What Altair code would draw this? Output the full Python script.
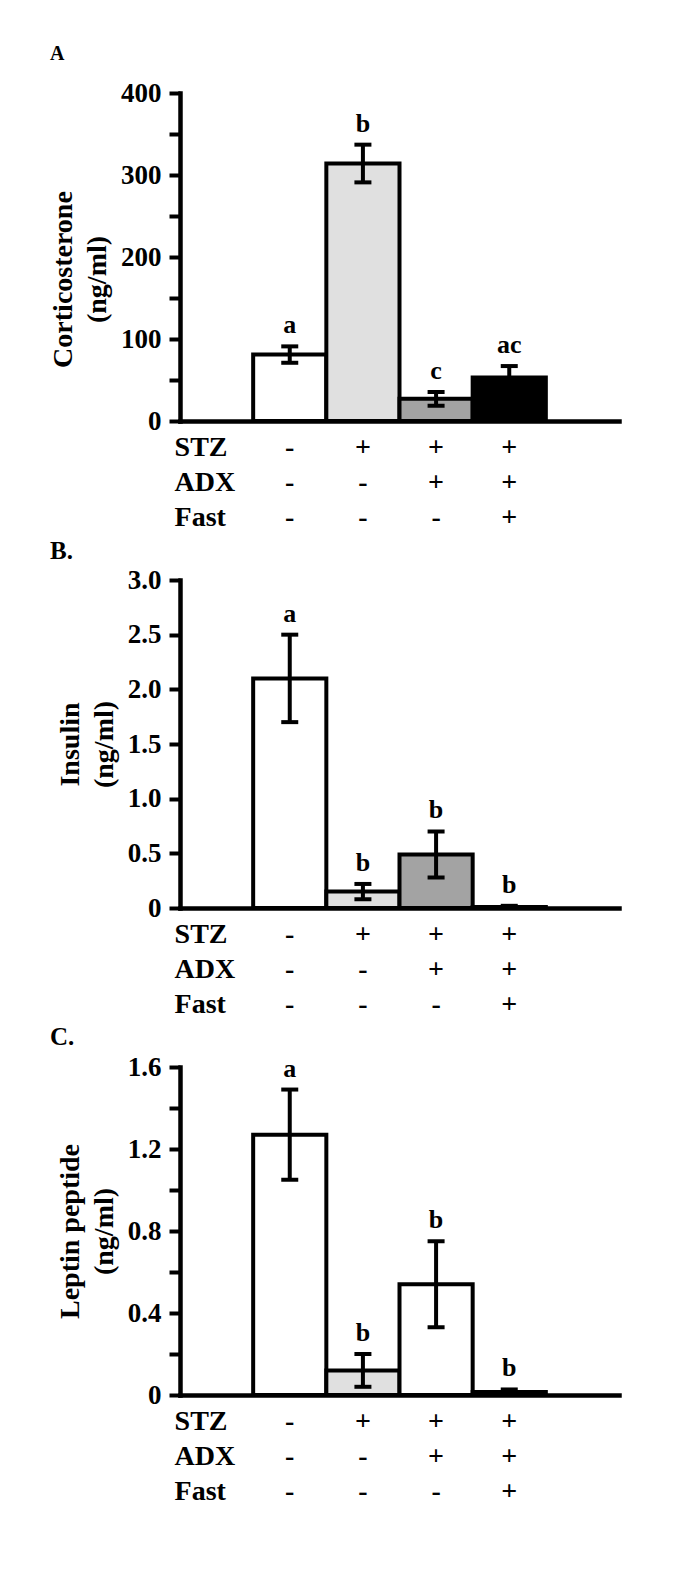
import json
import altair as alt
import pandas as pd

FONT = "Liberation Serif"

# ---- data ----
groups = ["G1", "G2", "G3", "G4"]
slots = ["rows"] + groups + ["end"]
row_names = ["STZ", "ADX", "Fast"]
stz = ["-", "+", "+", "+"]
adx = ["-", "-", "+", "+"]
fast = ["-", "-", "-", "+"]

a_mean = [81, 314, 27, 53]
a_err = [10, 23, 8.5, 14]
a_letters = ["a", "b", "c", "ac"]
a_fill = ["#ffffff", "#e0e0e0", "#a3a3a3", "#000000"]
a_ticks = [0, 50, 100, 150, 200, 250, 300, 350, 400]

b_mean = [2.10, 0.15, 0.49, 0.01]
b_err = [0.40, 0.07, 0.21, 0.01]
b_letters = ["a", "b", "b", "b"]
b_fill = ["#ffffff", "#e0e0e0", "#a3a3a3", "#000000"]
b_ticks = [0, 0.5, 1.0, 1.5, 2.0, 2.5, 3.0]

c_mean = [1.27, 0.12, 0.54, 0.015]
c_err = [0.22, 0.08, 0.21, 0.012]
c_letters = ["a", "b", "b", "b"]
c_fill = ["#ffffff", "#e0e0e0", "#ffffff", "#000000"]
c_ticks = [0, 0.2, 0.4, 0.6, 0.8, 1.0, 1.2, 1.4, 1.6]

label_map = {"rows": row_names, "end": [""]}
for g, s, a, f in zip(groups, stz, adx, fast):
    label_map[g] = [s, a, f]
x_label_expr = json.dumps(label_map) + "[datum.value]"

W, H = 439, 328


def panel(mean, err, letters, fills, ymax, yticks, ylab_expr, ytitle, ttext,
          tsize, toffset, title_y=None):
    df = pd.DataFrame({
        "g": groups,
        "mean": mean,
        "lo": [m - e for m, e in zip(mean, err)],
        "hi": [m + e for m, e in zip(mean, err)],
        "letter": letters,
        "fill": fills,
    })
    xaxis = alt.Axis(
        title=None, ticks=False, labelAngle=0, labelExpr=x_label_expr,
        labelFontSize=28, labelLineHeight=35, labelPadding=12,
        labelBaseline="top", labelOverlap=False, labelBound=False,
        labelFlush=False,
        labelAlign={"condition": {"test": "datum.value === 'rows'", "value": "left"},
                    "value": "center"},
        labelOffset={"condition": {"test": "datum.value === 'rows'", "value": -42},
                     "value": 0},
    )
    yaxis_kw = dict(
        values=yticks, labelExpr=ylab_expr, title=ytitle, labelFontSize=27,
        titleFontSize=28, titleLineHeight=34, labelPadding=8, titlePadding=9,
        labelOverlap=False, labelFlush=False, labelBound=False,
    )
    if title_y is not None:
        yaxis_kw["titleY"] = title_y
    yaxis = alt.Axis(**yaxis_kw)
    xs = alt.Scale(domain=slots, paddingInner=0, paddingOuter=0)
    ys = alt.Scale(domain=[0, ymax], nice=False, zero=True)
    x = alt.X("g:N", scale=xs, axis=xaxis)
    base = alt.Chart(df)
    bars = base.mark_bar(stroke="black", strokeWidth=4).encode(
        x=x,
        y=alt.Y("mean:Q", scale=ys, axis=yaxis),
        fill=alt.Fill("fill:N", scale=None),
    )
    rules = base.mark_rule(color="black", strokeWidth=4).encode(
        x=x, y=alt.Y("lo:Q", scale=ys, axis=yaxis), y2="hi:Q")
    cap_hi = base.mark_tick(color="black", thickness=4, size=17, opacity=1).encode(
        x=x, y=alt.Y("hi:Q", scale=ys, axis=yaxis))
    cap_lo = base.mark_tick(color="black", thickness=4, size=17, opacity=1).encode(
        x=x, y=alt.Y("lo:Q", scale=ys, axis=yaxis))
    text = base.mark_text(font=FONT, fontWeight="bold", fontSize=26, color="black",
                          baseline="middle", dy=-21).encode(
        x=x, y=alt.Y("hi:Q", scale=ys, axis=yaxis), text="letter:N")
    return alt.layer(bars, rules, cap_hi, cap_lo, text).properties(
        width=W, height=H,
        title=alt.TitleParams(text=ttext, anchor="start", frame="group",
                              font=FONT, fontSize=tsize, fontWeight="bold",
                              color="black", dx=-130, offset=toffset,
                              baseline="alphabetic"),
    )


pA = panel(a_mean, a_err, a_letters, a_fill, 400, a_ticks,
           "datum.value % 100 == 0 ? datum.label : ''",
           ["Corticosterone", "(ng/ml)"], "A", 20, -1, title_y=186)
pB = panel(b_mean, b_err, b_letters, b_fill, 3.0, b_ticks,
           "datum.value == 0 ? '0' : format(datum.value, '.1f')",
           ["Insulin", "(ng/ml)"], "B.", 25, -18)
pC = panel(c_mean, c_err, c_letters, c_fill, 1.6, c_ticks,
           "datum.value == 0 ? '0' : (round(datum.value * 10) % 4 == 0 ? format(datum.value, '.1f') : '')",
           ["Leptin peptide", "(ng/ml)"], "C.", 25, -17)

chart = alt.vconcat(pA, pB, pC, spacing=159, bounds="flush").configure(
    padding={"left": 41, "top": 36, "right": 10, "bottom": 10},
    background="white",
).configure_view(stroke=None).configure_axis(
    domainColor="black", domainWidth=4.5, tickColor="black", tickWidth=4,
    tickSize=11, labelFont=FONT, labelFontWeight="bold", labelColor="black",
    titleFont=FONT, titleFontWeight="bold", titleColor="black", grid=False,
    domainCap="square",
)

chart.save("out.html", embed_options={"renderer": "svg", "actions": False})
